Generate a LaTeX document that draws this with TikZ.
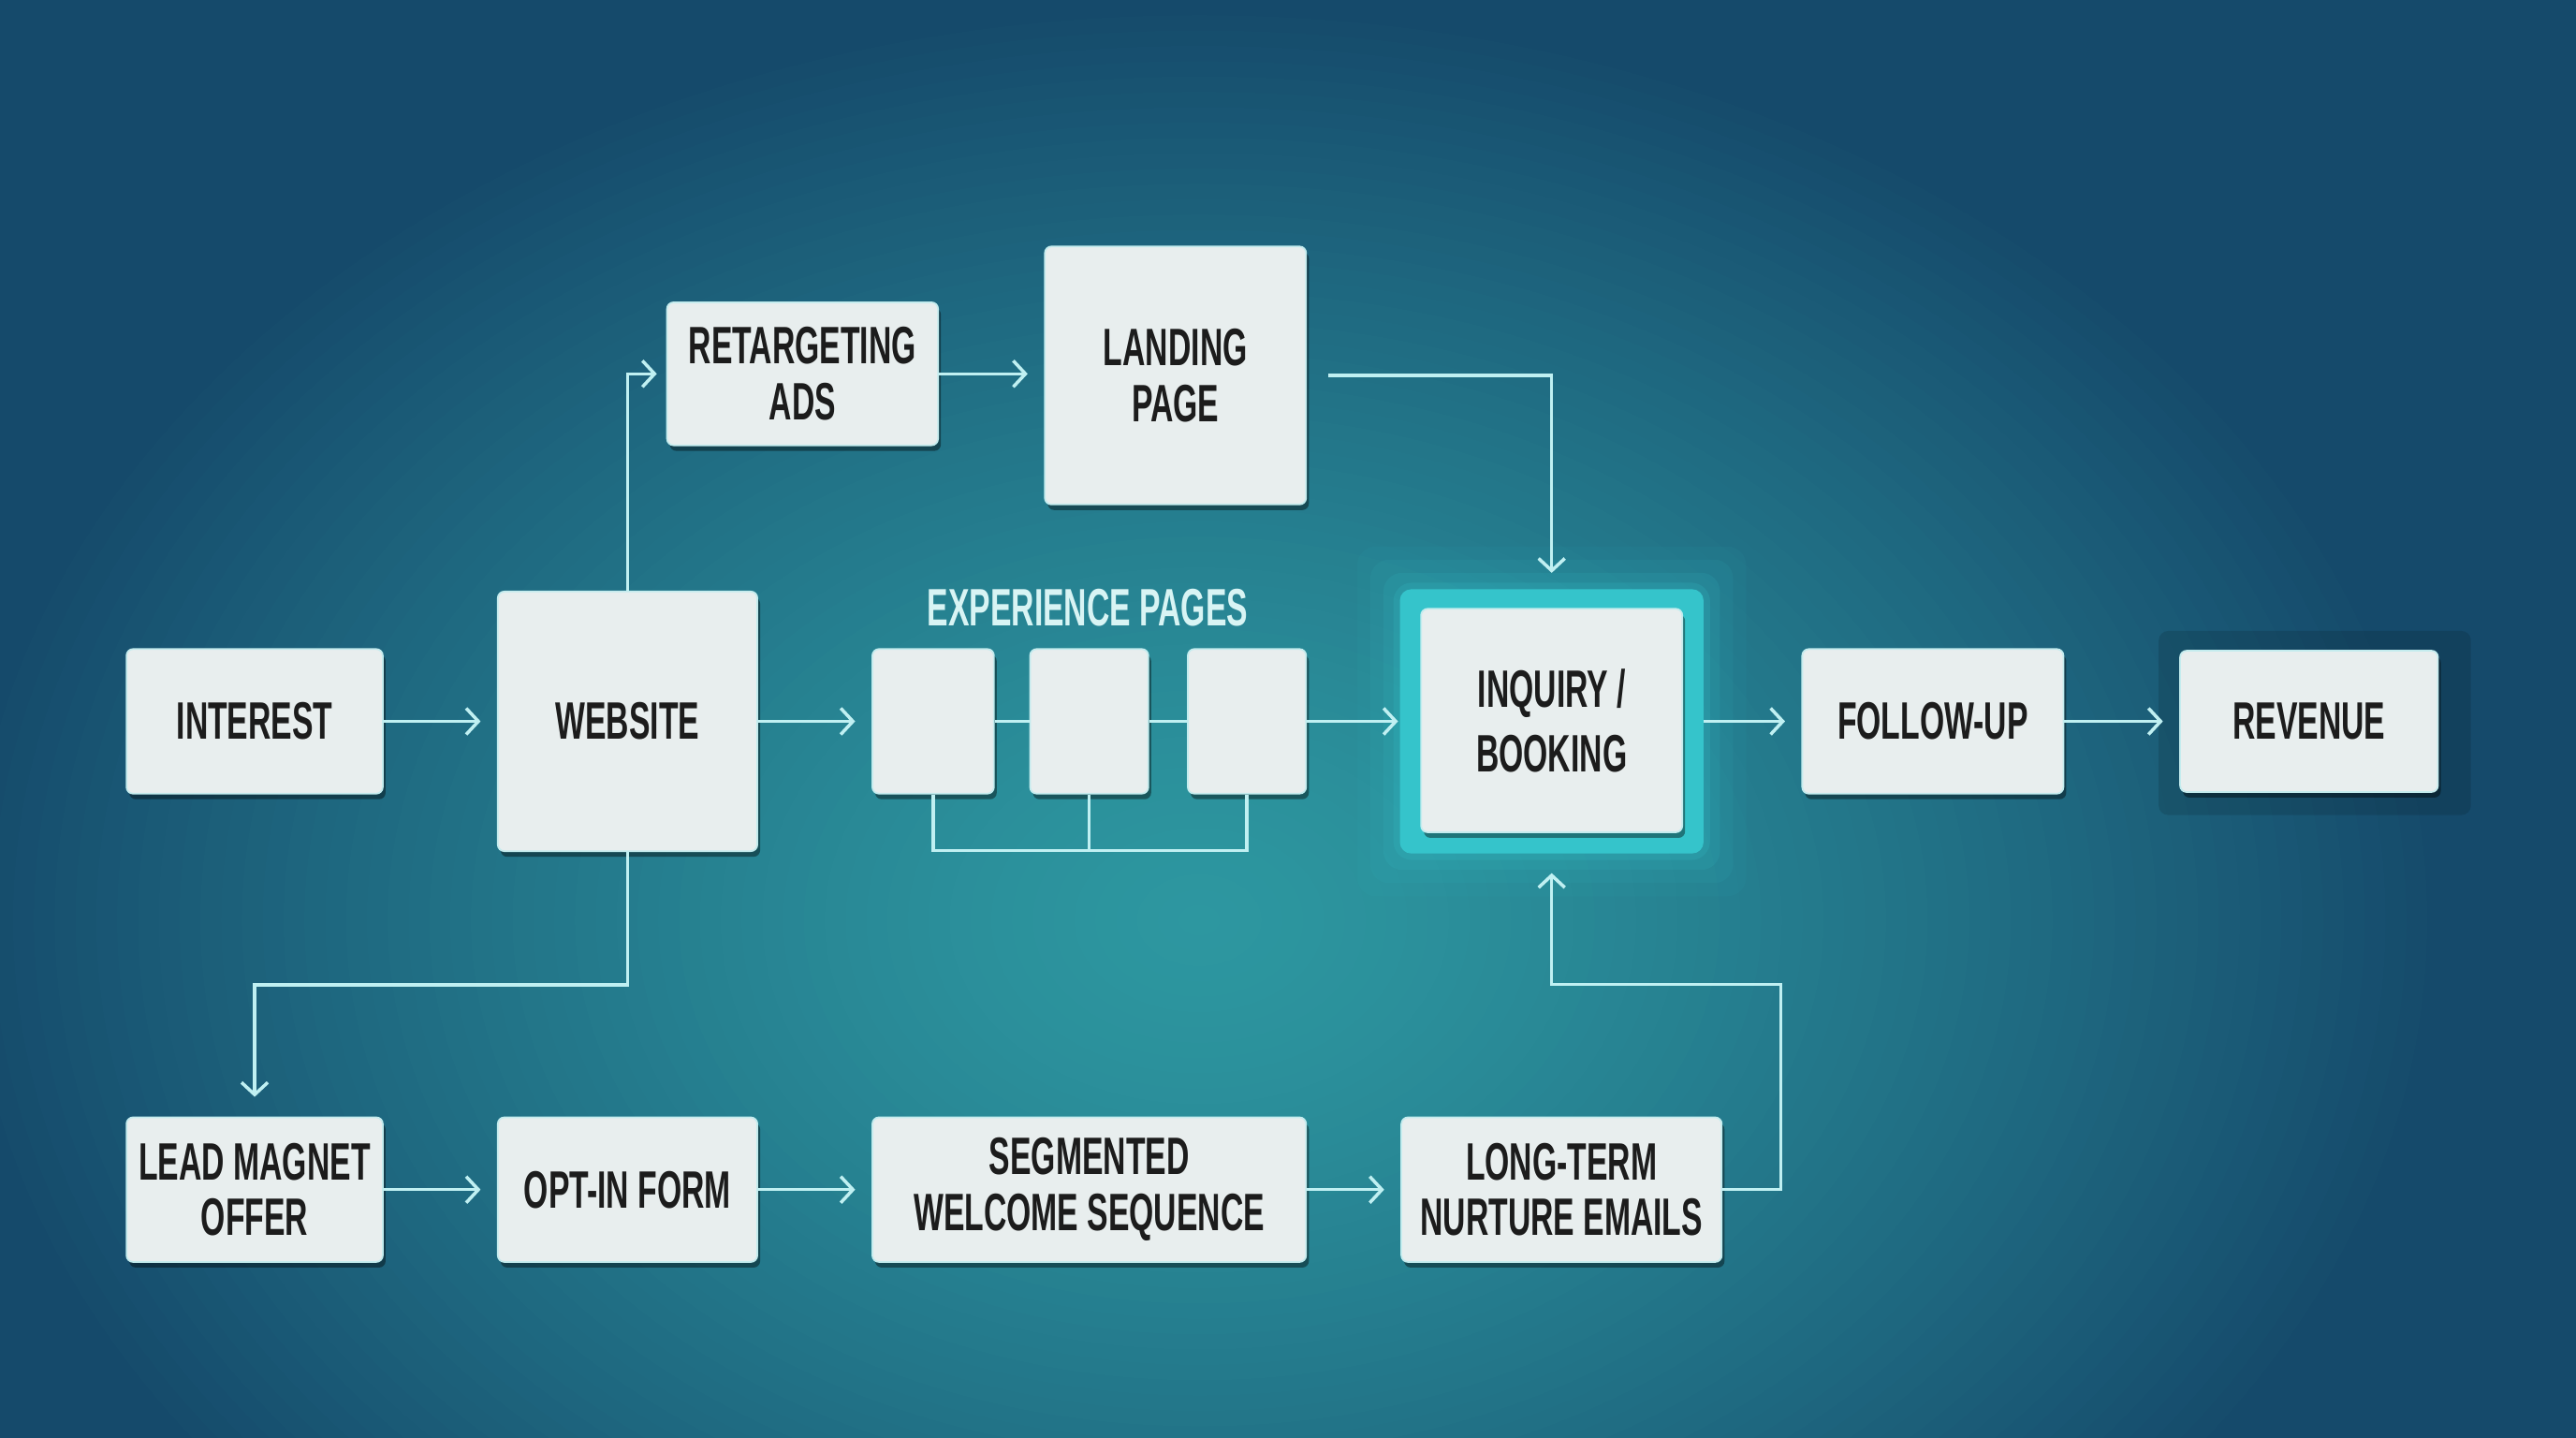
\documentclass[tikz,border=0pt]{standalone}
\usepackage{fontspec}
\newfontfamily\boxfont{Liberation Sans}[FakeStretch=0.6]
\usetikzlibrary{arrows.meta,shadows,calc}
\definecolor{bgc1}{HTML}{2D97A0}
\definecolor{bgc4}{HTML}{154A6B}
\definecolor{boxfill}{HTML}{E8EEEE}
\definecolor{boxedge}{HTML}{C4ECEE}
\definecolor{lnc}{HTML}{C0F0F2}
\definecolor{txt}{HTML}{1C1C1C}
\definecolor{eptxt}{HTML}{D8F4F4}
\definecolor{glowc}{HTML}{35C4CB}
\def\pxu{0.1755mm}
\tikzset{
  bx/.style 2 args={minimum width=#1*\pxu, minimum height=#2*\pxu},
  box/.style={draw=boxedge, line width=0.5pt, fill=boxfill, rounded corners=0.7mm,
    drop shadow={shadow xshift=0.3mm, shadow yshift=-0.6mm, opacity=0.4, fill=black},
    font=\boxfont\bfseries\fontsize{16}{17}\selectfont, text=txt, align=center, inner sep=0pt},
  ln/.style={draw=lnc, line width=1pt},
  arr/.style={draw=lnc, line width=1pt, -{Straight Barb[length=1.3mm,width=2.8mm,line width=1pt]}, shorten >=1.75mm},
}
\begin{document}
\begin{tikzpicture}[x=0.1755mm,y=-0.1755mm]
\useasboundingbox (0,0) rectangle (1568,875);
\fill[bgc4] (0,0) rectangle (1568,875);
\begin{scope}
\clip (0,0) rectangle (1568,875);
\foreach \i in {60,59,...,1}{
  \pgfmathsetmacro\rr{\i/60}
  \pgfmathsetmacro\pp{100*(1-\rr^1.4)}
  \fill[bgc1!\pp!bgc4] (730,560) ellipse [x radius=\rr*133.4mm, y radius=\rr*98.3mm];
}
\end{scope}

% glow for inquiry
\node[bx={184}{160}, inner sep=0pt] (inqglow) at (944.5,439) {};
\foreach \g/\o in {26/0.05,18/0.08,10/0.12,4/0.18}{
  \fill[glowc, opacity=\o, rounded corners=2mm] ($(inqglow.south west)+(-\g,\g)$) rectangle ($(inqglow.north east)+(\g,-\g)$);
}
\fill[glowc, rounded corners=1.2mm] (inqglow.south west) rectangle (inqglow.north east);

% revenue backdrop
\node[bx={190}{112}, fill=black, opacity=0.12, rounded corners=1mm, inner sep=0pt] (revshade) at (1409,440) {};

\node[box,bx={156}{88}] (interest) at (155,439) {INTEREST};
\node[box,bx={158}{158}] (website) at (382,439) {WEBSITE};
\node[box,bx={165}{87}] (retarget) at (488.5,227.5) {RETARGETING\\ADS};
\node[box,bx={159}{157}] (landing) at (715.5,228.5) {LANDING\\PAGE};
\node[font=\boxfont\bfseries\fontsize{16}{17}\selectfont, text=eptxt, inner sep=0pt] (eplabel) at (662,370) {EXPERIENCE PAGES};
\node[box,bx={74}{88}] (exp1) at (568,439) {};
\node[box,bx={72}{88}] (exp2) at (663,439) {};
\node[box,bx={72}{88}] (exp3) at (759,439) {};
\node[box,bx={159}{136}, drop shadow={opacity=0}, font=\boxfont\bfseries\fontsize{16}{19.5}\selectfont] (inquiry) at (944.5,438.5) {INQUIRY /\\BOOKING};
\node[box,bx={159}{88}] (follow) at (1176.5,439) {FOLLOW-UP};
\node[box,bx={157}{86}] (revenue) at (1405.5,439) {REVENUE};
\node[box,bx={156}{88}] (lead) at (155,724) {LEAD MAGNET\\OFFER};
\node[box,bx={158}{88}] (optin) at (382,724) {OPT-IN FORM};
\node[box,bx={264}{88}] (seg) at (663,724) {SEGMENTED\\WELCOME SEQUENCE};
\node[box,bx={195}{88}] (longterm) at (950.5,724) {LONG-TERM\\NURTURE EMAILS};

% connectors
\draw[arr] (interest.east) -- (interest.east -| website.west);
\draw[arr] (website.east) -- (website.east -| exp1.west);
\draw[ln] (exp1.east) -- (exp1.east -| exp2.west);
\draw[ln] (exp2.east) -- (exp2.east -| exp3.west);
\draw[arr, shorten >=0.2mm] (exp3.east) -- (exp3.east -| inqglow.west);
\draw[arr] (inqglow.east) -- (inqglow.east -| follow.west);
\draw[arr] (follow.east) -- (follow.east -| revenue.west);
\draw[arr, shorten >=1mm] (website.north) |- (retarget.west);
\draw[arr] (retarget.east) -- (retarget.east -| landing.west);
\draw[arr, shorten <=2.3mm] (landing.east) -| (inqglow.north);
\draw[ln] (exp1.south) -- ++(0,34) -| (exp3.south);
\draw[ln] (exp2.south) -- ++(0,34);
\draw[arr, shorten >=2.1mm] (website.south) -- ++(0,81) -| (lead.north);
\draw[arr] (lead.east) -- (lead.east -| optin.west);
\draw[arr] (optin.east) -- (optin.east -| seg.west);
\draw[arr] (seg.east) -- (seg.east -| longterm.west);
\draw[arr, shorten >=2.1mm] (longterm.east) -| (1084,599) -| (inqglow.south);
\end{tikzpicture}
\end{document}
